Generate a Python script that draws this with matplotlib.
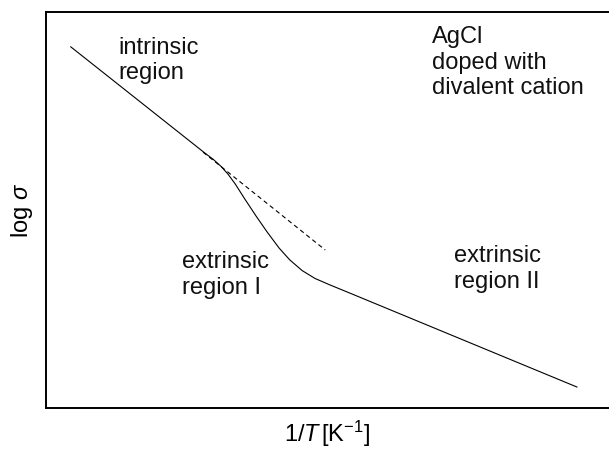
import matplotlib
matplotlib.use('Agg')
import matplotlib.pyplot as plt

plt.rcParams['font.family'] = ['Liberation Sans', 'DejaVu Sans']
plt.rcParams['mathtext.fontset'] = 'custom'
plt.rcParams['mathtext.rm'] = 'Liberation Sans'
plt.rcParams['mathtext.it'] = 'Liberation Sans:italic'

# conductivity curve (arbitrary units)
inv_t = [0.44, 2.82, 2.97, 3.11, 3.23, 3.36, 3.53, 3.73, 3.93, 4.14,
         4.33, 4.55, 4.78, 5.04, 5.40, 9.43]
log_sigma = [9.12, 6.44, 6.28, 6.10, 5.91, 5.66, 5.28, 4.85, 4.44, 4.04,
             3.74, 3.47, 3.27, 3.11, 2.90, 0.53]

# extrapolated intrinsic line
dash_x = [2.79, 4.96]
dash_y = [6.46, 3.99]

labels = ['intrinsic\nregion', 'AgCl\ndoped with\ndivalent cation',
          'extrinsic\nregion I', 'extrinsic\nregion II']
label_x = [1.28, 6.86, 2.42, 7.25]
label_y = [9.38, 9.64, 3.96, 4.11]

fig = plt.figure(figsize=(6.09, 4.5), dpi=100)
ax = fig.add_axes([46 / 609, 42 / 450, 563 / 609, 396 / 450])

ax.plot(inv_t, log_sigma, color='black', lw=0.8)
ax.plot(dash_x, dash_y, color='black', lw=0.8, ls=(0, (4, 3)))

for txt, x, y in zip(labels, label_x, label_y):
    ax.text(x, y, txt, fontsize=17, ha='left', va='top', color='#111111')

ax.set_xlim(0, 10)
ax.set_ylim(0, 10)
ax.set_xticks([])
ax.set_yticks([])
ax.spines['right'].set_visible(False)
for s in ['left', 'bottom', 'top']:
    ax.spines[s].set_linewidth(1.4)

ax.set_xlabel('1/$T\\,$[K$^{\\mathrm{-}1}$]', fontsize=17, labelpad=8)
ax.set_ylabel('log $\\sigma$', fontsize=17, labelpad=8)

fig.savefig('out.png', dpi=100)
